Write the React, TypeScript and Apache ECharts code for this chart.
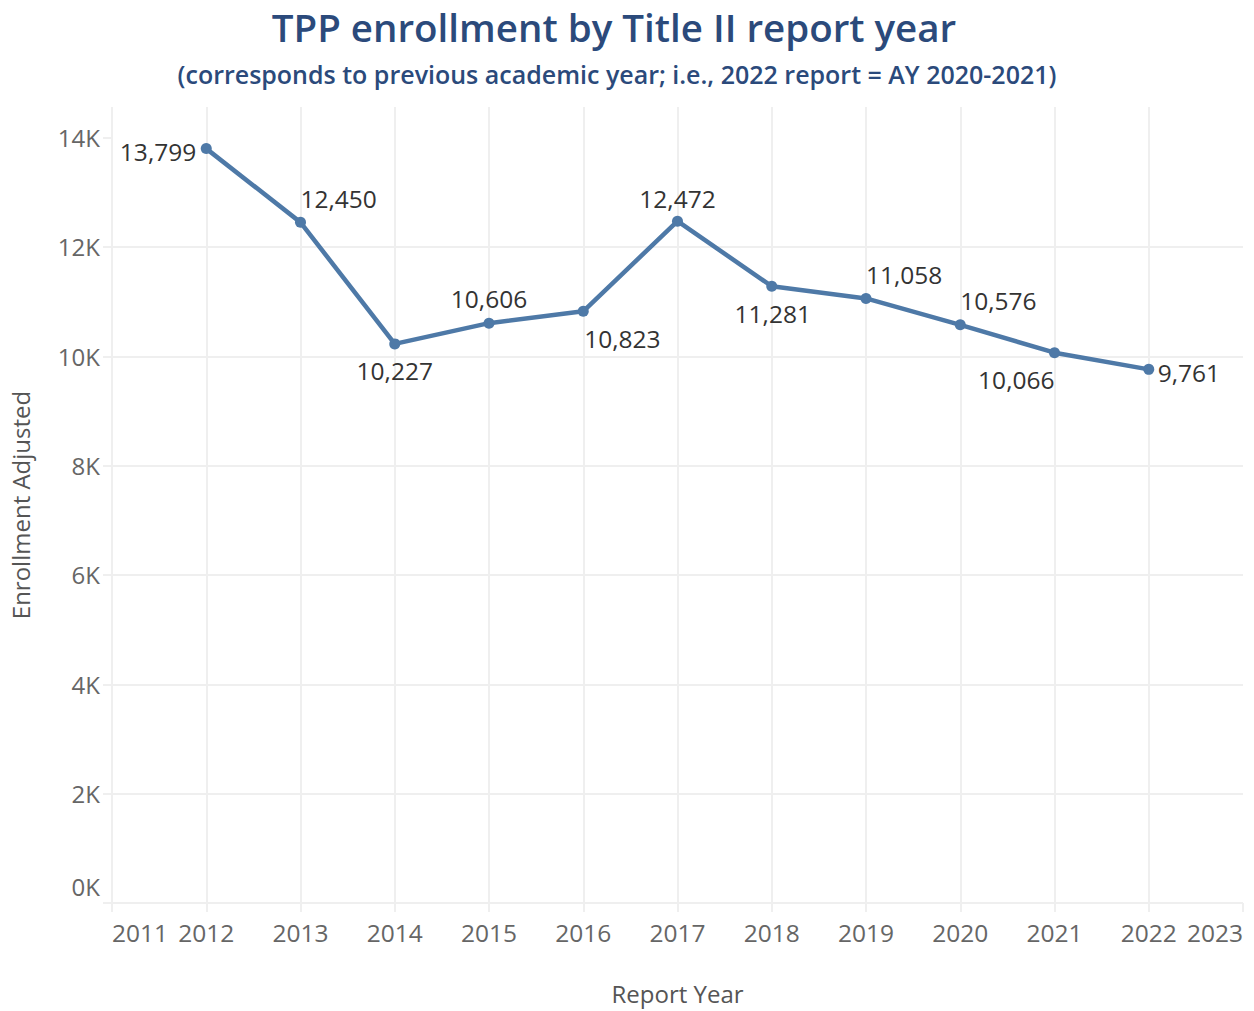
import React, { useEffect, useRef } from "react";
import * as echarts from "echarts";

const years = [2012, 2013, 2014, 2015, 2016, 2017, 2018, 2019, 2020, 2021, 2022];
const enrollment = [13799, 12450, 10227, 10606, 10823, 12472, 11281, 11058, 10576, 10066, 9761];
const yTicks = [0, 2000, 4000, 6000, 8000, 10000, 12000, 14000];
const xMin = 2011;
const xMax = 2023;

// label placement per point: [align, dx, dy]
const labelPlacement: [string, number, number][] = [
  ["right", -10, 3],
  ["left", 0, -24],
  ["center", 0, 27],
  ["center", 0, -25],
  ["left", 1, 27],
  ["center", 0, -23],
  ["center", 1, 27],
  ["left", 0, -24],
  ["left", 0, -24],
  ["right", 0, 27],
  ["left", 9, 3],
];

const FONT = "'Open Sans', 'Noto Sans', sans-serif";
const GRID = "#efefef";
const LBL = 24.5;

export default function App() {
  const ref = useRef<HTMLDivElement>(null);
  useEffect(() => {
    if (!ref.current) return;
    const chart = echarts.init(ref.current, null, { renderer: "svg" });
    const data = years.map((y, i) => ({
      value: [y, enrollment[i]],
      label: {
        align: labelPlacement[i][0],
        offset: [labelPlacement[i][1], labelPlacement[i][2]],
      },
    }));
    chart.setOption({
      animation: false,
      graphic: [
        {
          type: "text",
          x: 614,
          y: 27,
          style: {
            text: "TPP enrollment by Title II report year",
            fill: "#2b4a7b",
            font: `600 38.5px ${FONT}`,
            textAlign: "center",
            textVerticalAlign: "middle",
          },
        },
        {
          type: "text",
          x: 617,
          y: 74,
          style: {
            text: "(corresponds to previous academic year; i.e., 2022 report = AY 2020-2021)",
            fill: "#2b4a7b",
            font: `600 25px ${FONT}`,
            textAlign: "center",
            textVerticalAlign: "middle",
          },
        },
      ],
      grid: { left: 112, right: 11, top: 107, bottom: 108, containLabel: false, outerBoundsMode: "none" },
      xAxis: {
        type: "value",
        min: xMin,
        max: xMax,
        interval: 1,
        name: "Report Year",
        nameLocation: "middle",
        nameGap: 78,
        nameTextStyle: { color: "#555", fontSize: 24, fontFamily: FONT, verticalAlign: "top" },
        axisLine: { show: false },
        axisTick: { show: true, length: 9, lineStyle: { color: GRID, width: 2 } },
        axisLabel: {
          color: "#666",
          fontSize: LBL,
          fontFamily: FONT,
          margin: 17,
          formatter: (v: number) => String(v),
          alignMinLabel: "left",
          alignMaxLabel: "right",
        },
        splitLine: { show: true, showMaxLine: false, lineStyle: { color: GRID, width: 2 } },
      },
      yAxis: {
        type: "value",
        min: 0,
        max: 14560,
        interval: 2000,
        name: "Enrollment Adjusted",
        nameLocation: "middle",
        nameGap: 80,
        nameTextStyle: { color: "#555", fontSize: 24, fontFamily: FONT },
        axisLine: { show: false },
        axisTick: { show: true, length: 9, customValues: yTicks, lineStyle: { color: GRID, width: 2 } },
        axisLabel: {
          color: "#666",
          fontSize: 24,
          fontFamily: FONT,
          margin: 12,
          customValues: yTicks,
          formatter: (v: number) => (v === 0 ? "{z|0K}" : `${v / 1000}K`),
          rich: {
            z: { color: "#666", fontSize: 24, fontFamily: FONT, padding: [0, 0, 34, 0] },
          },
        },
        splitLine: { show: true, showMaxLine: false, lineStyle: { color: GRID, width: 2 } },
      },
      series: [
        {
          type: "line",
          data,
          symbol: "circle",
          symbolSize: 11,
          itemStyle: { color: "#4e79a7" },
          lineStyle: { color: "#4e79a7", width: 4.5 },
          label: {
            show: true,
            position: "inside",
            color: "#333",
            fontSize: LBL,
            fontFamily: FONT,
            verticalAlign: "middle",
            formatter: (p: any) => p.value[1].toLocaleString("en-US"),
          },
        },
      ],
    });
    return () => chart.dispose();
  }, []);
  return (
    <div
      ref={ref}
      style={{ position: "absolute", left: 0, top: 0, width: 1254, height: 1011, background: "#fff" }}
    />
  );
}
